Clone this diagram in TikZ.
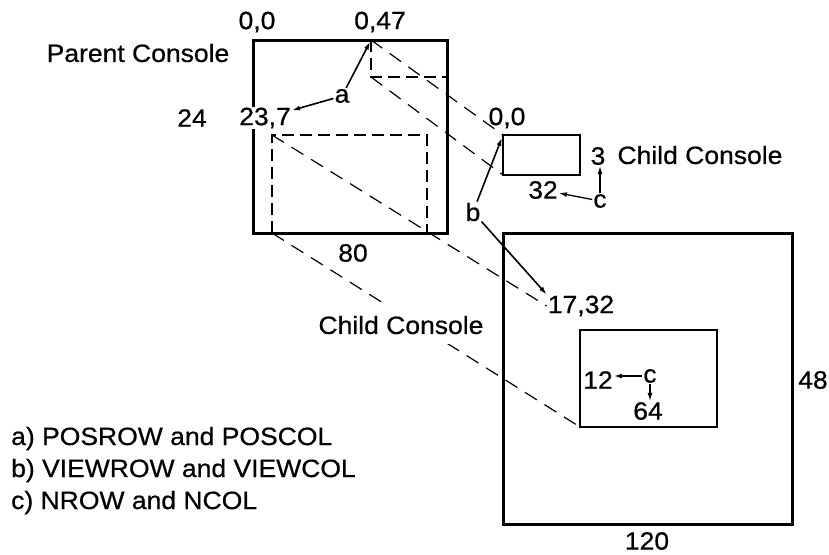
\documentclass[tikz,border=0pt]{standalone}
\usepackage{fontspec}
\setmainfont{Liberation Sans}[FakeStretch=1.06, FakeBold=0.6]
\usepackage{tikz}
\usetikzlibrary{positioning,arrows.meta,calc}

\begin{document}
\begin{tikzpicture}[x=1pt, y=-1pt,
    every node/.style={font=\fontsize{25}{30}\selectfont, inner sep=1pt},
    cover/.style={fill=white},
    legend/.style={anchor=base west},
    frame/.style={line width=3pt},
    thinframe/.style={line width=1.8pt},
    viewdash/.style={line width=2.6pt, dash pattern=on 12pt off 6pt},
    proj/.style={line width=1.2pt, dash pattern=on 14pt off 9pt},
    arrow/.style={-{Latex[length=8pt,width=5pt]}, line width=1.6pt}
]
\useasboundingbox (0,0) rectangle (829,554);

% Parent console and its two views
\coordinate (pTL) at (253,40);
\coordinate (pBR) at (447,233);
\draw[frame] (pTL) rectangle (pBR);
\coordinate (vA) at (371,40);
\coordinate (vAb) at (371,77);
\draw[viewdash] (vA) -- (vAb) -- (vAb -| pBR);
\coordinate (vB) at (272,135);
\coordinate (vBr) at (427,135);
\draw[viewdash] (vB |- pBR) -- (vB) -- (vBr) -- (vBr |- pBR);

% Child consoles
\coordinate (cTL) at (503,135);
\coordinate (cBR) at (580,175);
\draw[thinframe] (cTL) rectangle (cBR);
\coordinate (gTL) at (503,233);
\coordinate (gBR) at (792,524);
\draw[frame] (gTL) rectangle (gBR);
\coordinate (iTL) at (580,330);
\coordinate (iBR) at (717,427);
\draw[thinframe] (iTL) rectangle (iBR);

% Projection lines
\draw[proj] (vA) -- (cTL);
\draw[proj] (vAb) -- (cTL |- cBR);
\draw[proj] (vB |- pBR) -- (iTL |- iBR);

% Labels
\node (p00) at (257,22) {0,0};
\node (p047) at (380,22) {0,47};
\node (pname) at (138,53) {Parent Console};
\node (p24) at (192,118) {24};
\node[cover] (p237) at (265,118) {23,7};
\node (a) at (342,96) {a};
\node (p80) at (353,253) {80};

\node (c00) at (507,118) {0,0};
\node (n3) at (598,156) {3};
\node (cname) at (700,155) {Child Console};
\node (n32) at (543,190) {32};
\node (c1) at (600,201) {c};
\node (b) at (473,212) {b};

\node (l1732) at (581,306) {17,32};
\node[cover, inner xsep=4pt, inner ysep=10pt] (gname) at (401,325) {Child Console};
\node (n12) at (598,380) {12};
\node (c2) at (650,376) {c};
\node (n64) at (648,411) {64};
\node (n48) at (813,380) {48};
\node (n120) at (647,541) {120};

\draw[proj] (vB) -- (l1732.west);

% Pointers
\draw[arrow, shorten >=2pt] (a) -- (vA);
\draw[arrow] (a) -- (p237);
\draw[arrow, shorten >=3pt] (b) -- (cTL);
\draw[arrow] (b) -- (l1732.north west);
\draw[arrow, line width=1.3pt] (c1) -- (n32);
\draw[arrow, line width=1.3pt] (c1) -- (c1 |- n3.south);
\draw[arrow, line width=1.3pt] (c2) -- (c2 -| n12.east);
\draw[arrow, line width=1.3pt] (c2) -- (c2 |- n64.north);

% Legend
\node[legend] (la) at (10,445) {a) POSROW and POSCOL};
\node[legend] (lb) at (10,477) {b) VIEWROW and VIEWCOL};
\node[legend] (lc) at (10,509) {c) NROW and NCOL};

\end{tikzpicture}
\end{document}
